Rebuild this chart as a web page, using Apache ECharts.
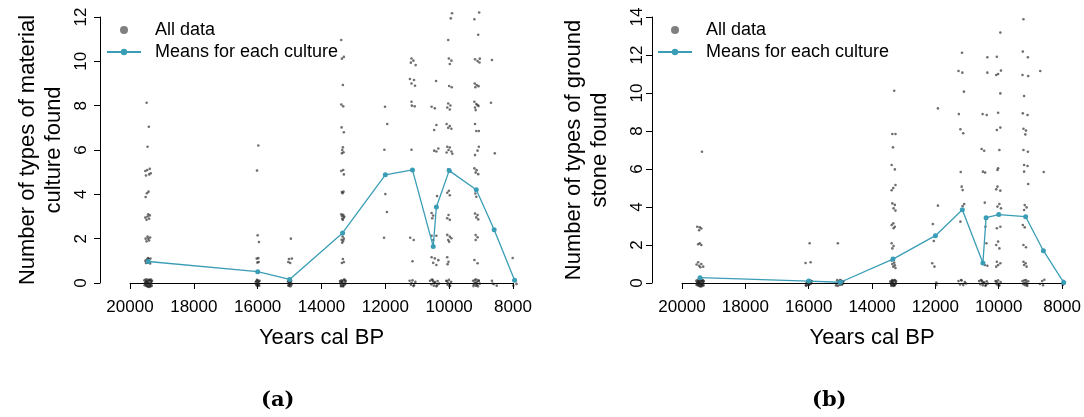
<!DOCTYPE html>
<html><head><meta charset="utf-8">
<script src="https://cdn.jsdelivr.net/npm/echarts@6/dist/echarts.min.js"></script>
<style>html,body{margin:0;padding:0;background:#fff}#c{width:1084px;height:417px}</style>
</head><body><div id="c"></div>
<script>
// Culture dates (years cal BP) and per-culture means
const cultureYears = [19430, 16000, 15000, 13340, 12000, 11150, 10500, 10400, 10000, 9150, 8590, 7950];
const meanMaterial = [0.97, 0.51, 0.16, 2.26, 4.88, 5.10, 1.65, 3.43, 5.07, 4.21, 2.40, 0.12];
const meanGroundStone = [0.28, 0.10, 0.04, 1.26, 2.49, 3.86, 1.05, 3.44, 3.60, 3.49, 1.70, 0.03];

// All data (jittered as plotted): [years cal BP, count]
const allMaterial = [
 [19480,8.13],[19410,7.05],[19450,6.15],[19380,5.15],[19460,5.1],[19520,5.05],[19400,4.9],[19500,4.85],[19350,4.95],
 [19420,4.12],[19470,4.05],[19510,3.88],[19380,3.05],[19450,3.0],[19520,2.95],[19400,2.9],[19480,2.85],[19430,3.1],
 [19370,2.05],[19450,2.1],[19510,2.0],[19400,1.92],[19480,1.88],[19430,2.0],
 [19360,1.1],[19420,1.08],[19480,1.05],[19520,1.0],[19390,0.95],[19450,0.92],[19500,0.9],[19370,0.88],[19440,1.12],[19410,0.97],
 [19310,0.1],[19340,-0.06],[19370,0.13],[19400,-0.11],[19430,0.04],[19460,-0.15],[19490,0.09],[19520,-0.03],[19550,0.12],[19320,-0.13],
 [19350,0.02],[19380,-0.09],[19410,0.15],[19440,-0.04],[19470,0.07],[19500,-0.12],[19530,0.0],[19330,0.06],[19360,-0.15],[19390,0.11],
 [19420,-0.01],[19450,0.14],[19480,-0.08],[19510,0.05],[19540,-0.1],[19345,0.16],[19395,-0.18],[19455,0.01],[19505,0.17],[19435,-0.17],
 [15980,6.2],[16020,5.07],[16000,2.15],[15960,1.85],[15980,1.12],[16030,1.1],[15970,0.95],[16010,0.92],
 [15940,0.1],[15970,-0.05],[16000,0.12],[16030,-0.1],[16060,0.04],[15950,-0.12],[15990,0.02],[16020,0.14],[16050,-0.06],[15960,0.07],[16010,-0.14],[16040,0.09],[15980,-0.09],[16000,0.0],
 [14960,2.0],[14930,1.1],[15020,1.08],[14980,0.9],[15040,0.95],
 [14950,0.1],[14980,-0.06],[15010,0.13],[15040,-0.1],[14960,0.03],[14990,0.15],[15020,-0.13],[15050,0.06],[14940,-0.08],[15000,0.0],[15030,0.09],[14970,-0.15],[15010,-0.03],[14990,0.07],
 [13380,10.96],[13300,10.2],[13360,10.12],[13330,8.93],[13380,8.05],[13320,7.97],[13370,7.02],[13300,6.8],[13330,6.12],[13350,6.0],[13310,5.9],[13360,5.85],
 [13320,5.1],[13380,5.05],[13300,4.9],[13310,4.12],[13360,4.1],[13340,4.05],[13320,3.08],[13360,3.02],[13300,2.95],[13350,2.9],[13380,3.1],[13330,2.85],[13290,3.0],
 [13340,2.1],[13300,2.0],[13370,1.95],[13320,1.9],[13350,1.82],[13330,1.08],[13300,0.95],[13360,0.9],
 [13240,0.1],[13270,-0.07],[13300,0.14],[13330,-0.12],[13360,0.05],[13390,-0.15],[13420,0.09],[13250,-0.02],[13280,0.16],[13310,-0.09],[13340,0.0],[13370,0.12],[13400,-0.05],[13260,0.06],[13320,-0.16],[13350,0.08],[13380,-0.11],[13410,0.02],
 [12010,7.95],[11940,7.17],[12030,6.01],[12000,4.01],[11950,3.2],[12040,2.04],
 [11180,10.13],[11120,10.03],[11200,9.94],[11050,9.83],[11230,9.2],[11100,9.16],[11180,9.0],[11070,8.9],[11180,8.18],[11170,8.0],[11080,7.97],[11180,6.01],[11220,2.04],[11110,1.94],[11150,0.98],
 [11240,0.1],[11200,-0.08],[11150,0.12],[11100,-0.1],[11060,0.05],[11180,0.0],[11120,-0.14],
 [10410,9.11],[10550,7.95],[10450,7.88],[10400,7.13],[10470,6.9],[10340,6.07],[10470,5.97],[10400,5.93],[10380,3.92],[10550,3.16],[10500,3.04],[10530,2.92],
 [10550,2.13],[10400,2.13],[10500,1.94],[10550,1.16],[10450,1.11],[10340,1.03],[10500,0.91],[10400,0.81],
 [10600,0.1],[10560,-0.06],[10520,0.13],[10480,-0.12],[10440,0.04],[10400,-0.15],[10360,0.09],[10320,-0.03],[10540,0.16],[10460,0.0],[10380,-0.1],[10500,0.07],
 [9910,12.17],[9950,11.94],[10030,10.96],[10010,10.13],[9930,10.03],[9980,9.88],[10000,8.89],[9920,8.83],[10030,8.1],[9960,8.01],[10060,7.92],[9980,7.83],
 [10080,7.17],[9980,7.08],[10030,7.0],[9930,6.96],[10060,6.15],[9980,6.11],[10020,6.0],[9930,5.93],[10080,5.89],[9900,5.83],[10030,5.13],[9960,5.02],
 [10010,4.16],[10060,4.07],[9980,3.96],[10020,3.07],[10060,2.92],[9980,2.85],[10060,2.17],[9980,2.09],[9930,2.02],[10030,1.94],[10000,1.86],
 [10060,1.16],[10020,0.96],[10050,0.85],
 [10090,0.1],[10050,-0.08],[10010,0.14],[9970,-0.12],[9940,0.05],[10030,0.0],[9990,-0.15],[10070,0.08],
 [9060,12.2],[9210,11.9],[9090,11.2],[9190,10.09],[9110,10.01],[9050,9.95],[9040,10.12],[9200,9.0],[9140,8.93],[9080,8.88],[9180,8.83],
 [9210,8.18],[9150,8.07],[9080,7.98],[9190,7.92],[9170,7.8],[9110,8.03],[9190,7.17],[9150,6.86],[9070,6.86],[9070,6.15],[9110,5.97],[9190,5.77],
 [9210,5.17],[9140,5.09],[9170,4.98],[9090,4.91],[9150,4.19],[9180,4.04],[9150,3.89],[9190,3.13],[9110,3.07],[9150,2.96],[9090,2.87],
 [9170,2.16],[9110,2.06],[9170,1.94],[9210,1.04],[9110,0.89],
 [9250,0.1],[9220,-0.06],[9190,0.14],[9160,-0.12],[9130,0.04],[9100,-0.15],[9070,0.09],[9040,-0.03],[9240,-0.14],[9200,0.02],[9150,0.16],[9120,-0.08],[9080,0.12],[9170,-0.01],
 [8660,10.06],[8690,8.13],[8570,5.85],[8660,0.1],[8600,-0.05],[8510,-0.12],[8640,-0.02],
 [8010,1.13],[7970,0.11],[7890,-0.04],[7990,-0.12]
];

const allGroundStone = [
 [19370,6.91],[19520,2.96],[19390,2.87],[19460,2.78],[19440,2.93],[19490,2.04],[19390,2.0],[19440,2.09],
 [19490,1.09],[19390,1.0],[19460,0.91],[19330,0.86],[19420,0.83],[19540,0.97],
 [19310,0.1],[19340,-0.06],[19370,0.13],[19400,-0.11],[19430,0.04],[19460,-0.15],[19490,0.09],[19520,-0.03],[19550,0.12],[19320,-0.13],
 [19350,0.02],[19380,-0.09],[19410,0.15],[19440,-0.04],[19470,0.07],[19500,-0.12],[19530,0.0],[19330,0.06],[19360,-0.15],[19390,0.11],
 [19420,-0.01],[19450,0.14],[19480,-0.08],[19510,0.05],[19540,-0.1],[19345,0.16],[19395,-0.18],[19455,0.01],[19505,0.17],[19435,-0.17],
 [15970,2.09],[15940,1.09],[16100,1.05],
 [15900,0.1],[15940,-0.05],[15980,0.12],[16020,-0.1],[16060,0.04],[16090,-0.12],[15920,0.02],[15960,0.14],[16000,-0.06],[16040,0.07],[16080,-0.14],[15950,0.09],[15990,-0.09],[16030,0.0],
 [15080,2.09],
 [14900,0.1],[14940,-0.06],[14980,0.13],[15020,-0.1],[15060,0.03],[15100,0.15],[15140,-0.13],[14920,0.06],[14960,-0.08],[15000,0.0],[15040,0.09],[15080,-0.15],[15120,-0.03],[15010,0.16],
 [13300,10.12],[13360,7.84],[13260,7.84],[13340,7.14],[13380,6.21],[13280,5.98],[13260,5.16],[13330,5.0],[13380,4.88],
 [13360,4.19],[13280,4.11],[13320,3.93],[13260,3.81],[13330,3.14],[13380,3.05],[13280,2.96],[13320,2.88],
 [13380,2.09],[13320,1.95],[13360,1.82],[13380,1.18],[13300,1.07],[13360,1.0],[13280,0.93],[13330,0.86],[13260,0.79],
 [13240,0.1],[13270,-0.07],[13300,0.14],[13330,-0.12],[13360,0.05],[13390,-0.15],[13420,0.09],[13250,-0.02],[13280,0.16],[13310,-0.09],
 [13340,0.0],[13370,0.12],[13400,-0.05],[13260,0.06],[13320,-0.16],[13350,0.08],[13380,-0.11],[13410,0.02],[13290,-0.13],[13360,0.15],
 [11920,9.19],[11920,4.07],[12080,3.1],[12050,2.21],[12100,1.04],[12030,0.86],[11970,0.02],[11970,-0.1],
 [11160,12.12],[11270,11.16],[11150,11.07],[11100,10.07],[11260,8.89],[11210,8.09],[11120,7.88],[11200,5.84],[11170,5.07],[11140,4.89],[11090,4.16],[11140,4.05],[11210,3.23],
 [11270,0.1],[11220,-0.08],[11170,0.13],[11120,-0.11],[11070,0.05],[11030,-0.03],[11190,0.16],
 [10360,11.88],[10360,11.07],[10510,8.89],[10380,8.84],[10540,7.05],[10460,6.96],[10500,5.86],[10430,5.81],[10440,4.23],[10420,2.96],[10390,2.09],[10440,0.95],[10360,0.91],
 [10620,0.1],[10580,-0.06],[10540,0.13],[10500,-0.12],[10460,0.04],[10420,-0.15],[10380,0.09],[10340,-0.03],[10560,0.16],[10480,0.0],[10400,-0.1],[10520,0.07],
 [9950,13.18],[10060,11.91],[9930,11.18],[10020,11.0],[10080,10.95],[9950,9.98],[10020,8.96],[9950,8.18],[10060,8.05],[9980,7.0],[10020,6.04],[10040,5.95],
 [10040,5.07],[10080,4.93],[9950,4.86],[9980,4.16],[10040,4.02],[9930,3.93],[9950,2.96],[10060,2.88],[10020,2.18],[10080,2.0],[9980,1.82],
 [10060,1.12],[9950,1.04],[10020,0.95],[10080,0.86],
 [10100,0.1],[10060,-0.08],[10020,0.14],[9980,-0.12],[9940,0.05],[10040,0.0],[10000,-0.15],[10080,0.08],
 [9220,13.88],[9240,12.18],[9080,11.88],[9250,10.95],[9070,10.89],[9200,9.84],[9240,8.93],[9090,8.84],[9220,8.12],[9140,8.02],[9160,7.82],
 [9220,7.0],[9080,6.91],[9200,6.21],[9090,6.16],[9200,5.86],[9070,5.21],[9180,4.1],[9120,3.98],[9200,3.84],[9240,3.05],[9180,2.93],
 [9220,2.0],[9140,1.88],[9220,1.12],[9150,1.04],[9200,0.95],[9120,0.86],
 [9250,0.1],[9220,-0.06],[9190,0.14],[9160,-0.12],[9130,0.04],[9100,-0.15],[9070,0.09],[9200,0.0],[9140,0.16],[9110,-0.08],
 [8690,11.16],[8580,5.84],[8700,-0.05],[8630,0.1],[8560,0.17],[8600,-0.12],
 [7960,0.12],[7930,-0.02],[7980,-0.1],[7950,0.05]
];

const FONT = "'Liberation Sans', Arial, Helvetica, sans-serif";
const TEAL = '#3a9db6';
const PT = 'rgba(30,30,30,0.8)';

function xAx(gi) {
  return {
    type: 'value', gridIndex: gi, inverse: true, min: 8000, max: 20000, interval: 2000, offset: 10,
    axisLine: { show: true, lineStyle: { color: '#000', width: 1 } },
    axisTick: { show: true, length: 6, lineStyle: { color: '#000', width: 1 } },
    axisLabel: { fontSize: 17, color: '#000', fontFamily: FONT, margin: 6, formatter: v => String(v) },
    splitLine: { show: false },
    name: 'Years cal BP', nameLocation: 'middle', nameGap: 34,
    nameTextStyle: { fontSize: 22, color: '#000', fontFamily: FONT }
  };
}
function yAx(gi, max, title, gap, margin) {
  return {
    type: 'value', gridIndex: gi, min: 0, max: max, interval: 2, offset: 30,
    axisLine: { show: true, lineStyle: { color: '#000', width: 1 } },
    axisTick: { show: true, length: 6, lineStyle: { color: '#000', width: 1 } },
    axisLabel: { fontSize: 17, color: '#000', fontFamily: FONT, rotate: 90, margin: margin },
    splitLine: { show: false },
    name: title, nameLocation: 'middle', nameGap: gap,
    nameTextStyle: { fontSize: 22, lineHeight: 26, color: '#000', fontFamily: FONT, align: 'center' }
  };
}
function legend(left) {
  return {
    orient: 'vertical', left: left, top: 20, padding: 0, itemWidth: 34, itemHeight: 8, itemGap: 2,
    selectedMode: false,
    textStyle: { fontSize: 18, lineHeight: 20, color: '#000', fontFamily: FONT, padding: [0, 0, 0, 9] },
    data: [
      { name: 'All data', icon: 'circle', itemStyle: { color: '#808080', opacity: 1 } },
      { name: 'Means for each culture' }
    ]
  };
}

const chart = echarts.init(document.getElementById('c'), null, { renderer: 'canvas' });
chart.setOption({
  animation: false,
  backgroundColor: '#fff',
  grid: [
    { left: 130, top: 17, width: 383, height: 266 },
    { left: 682, top: 17, width: 383, height: 266 }
  ],
  legend: [legend(106), legend(657)],
  xAxis: [xAx(0), xAx(1)],
  yAxis: [
    yAx(0, 12, 'Number of types of material\nculture found', 33, 10),
    yAx(1, 14, 'Number of types of ground\nstone found', 39, 6)
  ],
  series: [
    { name: 'All data', type: 'scatter', xAxisIndex: 0, yAxisIndex: 0, data: allMaterial, symbolSize: 2.6, clip: false, itemStyle: { color: PT } },
    { name: 'Means for each culture', type: 'line', xAxisIndex: 0, yAxisIndex: 0, clip: false,
      data: cultureYears.map((y, i) => [y, meanMaterial[i]]), symbol: 'circle', symbolSize: 5,
      lineStyle: { color: TEAL, width: 1.3 }, itemStyle: { color: TEAL } },
    { name: 'All data', type: 'scatter', xAxisIndex: 1, yAxisIndex: 1, data: allGroundStone, symbolSize: 2.6, clip: false, itemStyle: { color: PT } },
    { name: 'Means for each culture', type: 'line', xAxisIndex: 1, yAxisIndex: 1, clip: false,
      data: cultureYears.map((y, i) => [y, meanGroundStone[i]]), symbol: 'circle', symbolSize: 5,
      lineStyle: { color: TEAL, width: 1.3 }, itemStyle: { color: TEAL } }
  ],
  graphic: [
    { type: 'text', left: 261, top: 390, style: { text: '(a)', font: "bold 21px 'DejaVu Serif', 'Liberation Serif', serif", fill: '#000' } },
    { type: 'text', left: 812, top: 390, style: { text: '(b)', font: "bold 21px 'DejaVu Serif', 'Liberation Serif', serif", fill: '#000' } }
  ]
});
</script>
</body></html>
